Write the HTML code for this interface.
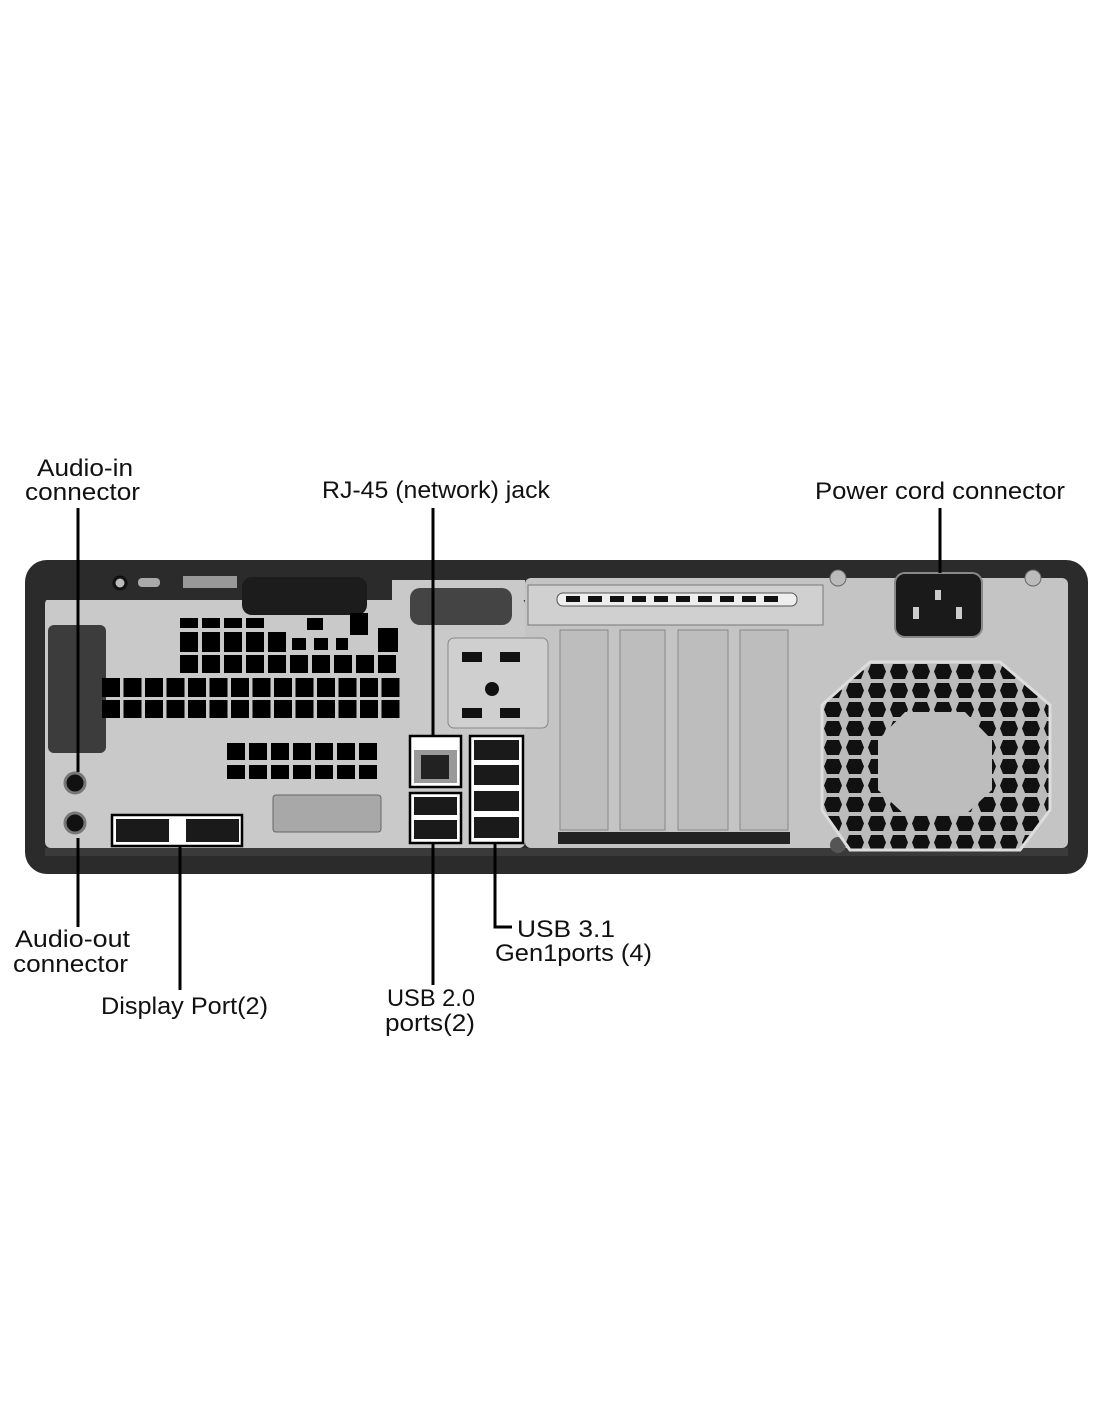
<!DOCTYPE html>
<html><head><meta charset="utf-8"><style>
html,body{margin:0;padding:0;background:#fff}
svg{display:block}
text{font-family:"Liberation Sans Narrow","Liberation Sans",sans-serif;font-size:24px;fill:#111}
</style></head><body>
<svg width="1100" height="1422" viewBox="0 0 1100 1422" xmlns="http://www.w3.org/2000/svg">
<defs>
<pattern id="pa" patternUnits="userSpaceOnUse" x="102" y="0" width="21.5" height="100"><rect x="0" y="0" width="18" height="100" fill="#000"/></pattern>
<pattern id="pb" patternUnits="userSpaceOnUse" x="180" y="0" width="22" height="100"><rect x="0" y="0" width="18" height="100" fill="#000"/></pattern>
<pattern id="pc" patternUnits="userSpaceOnUse" x="227" y="0" width="22" height="100"><rect x="0" y="0" width="18" height="100" fill="#000"/></pattern>
<pattern id="hex" patternUnits="userSpaceOnUse" x="822" y="662" width="22" height="19"><rect width="22" height="19" fill="#bbb"/><polygon points="5,2 17,2 20,9.5 17,17 5,17 2,9.5" fill="#111"/></pattern>
</defs>
<rect width="1100" height="1422" fill="#fff"/>
<rect x="25" y="560" width="1063" height="314" rx="22" fill="#2b2b2b"/>
<rect x="45" y="598" width="480" height="250" rx="6" fill="#c9c9c9"/>
<rect x="525" y="578" width="543" height="270" rx="6" fill="#c4c4c4"/>
<rect x="45" y="580" width="480" height="20" fill="#2b2b2b"/>
<rect x="392" y="580" width="133" height="20" fill="#c9c9c9"/>
<rect x="45" y="848" width="1023" height="8" fill="#3a3a3a"/>
<circle cx="120" cy="583" r="6" fill="#bbb" stroke="#111" stroke-width="3"/>
<rect x="138" y="578" width="22" height="9" rx="4" fill="#aaa"/>
<rect x="183" y="576" width="54" height="12" fill="#999"/>
<rect x="242" y="577" width="125" height="38" rx="10" fill="#1c1c1c"/>
<rect x="410" y="588" width="102" height="37" rx="10" fill="#444"/>
<rect x="48" y="625" width="58" height="128" rx="6" fill="#3c3c3c"/>
<rect x="180" y="618" width="84" height="10" fill="url(#pb)"/>
<rect x="307" y="618" width="16" height="12" fill="#000"/>
<rect x="350" y="613" width="18" height="22" fill="#000"/>
<rect x="180" y="632" width="106" height="20" fill="url(#pb)"/>
<rect x="292" y="638" width="14" height="12" fill="#000"/><rect x="314" y="638" width="14" height="12" fill="#000"/><rect x="336" y="638" width="12" height="12" fill="#000"/>
<rect x="378" y="628" width="20" height="24" fill="#000"/>
<rect x="180" y="655" width="218" height="18" fill="url(#pb)"/>
<rect x="102" y="678" width="298" height="19" fill="url(#pa)"/>
<rect x="102" y="700" width="298" height="18" fill="url(#pa)"/>
<rect x="227" y="743" width="150" height="17" fill="url(#pc)"/>
<rect x="227" y="765" width="150" height="14" fill="url(#pc)"/>
<rect x="273" y="795" width="108" height="37" rx="3" fill="#a8a8a8" stroke="#666"/>
<rect x="410" y="736" width="51" height="51" fill="#fff" stroke="#000" stroke-width="2.5"/>
<rect x="414" y="750" width="43" height="33" fill="#999"/>
<rect x="421" y="755" width="28" height="24" fill="#222"/>
<rect x="410" y="793" width="51" height="50" fill="#fff" stroke="#000" stroke-width="2.5"/>
<rect x="414" y="797" width="43" height="18" fill="#1a1a1a"/><rect x="414" y="820" width="43" height="19" fill="#1a1a1a"/>
<rect x="470" y="736" width="53" height="107" fill="#fff" stroke="#000" stroke-width="2.5"/>
<rect x="474" y="740" width="45" height="20" fill="#1a1a1a"/><rect x="474" y="765" width="45" height="20" fill="#1a1a1a"/><rect x="474" y="791" width="45" height="20" fill="#1a1a1a"/><rect x="474" y="817" width="45" height="21" fill="#1a1a1a"/>
<rect x="112" y="815" width="130" height="31" fill="#fff" stroke="#000" stroke-width="2.5"/>
<rect x="116" y="819" width="53" height="23" fill="#1a1a1a"/><rect x="186" y="819" width="53" height="23" fill="#1a1a1a"/>
<circle cx="75" cy="783" r="10" fill="#111" stroke="#777" stroke-width="3"/>
<circle cx="75" cy="823" r="10" fill="#111" stroke="#777" stroke-width="3"/>
<rect x="448" y="638" width="100" height="90" rx="6" fill="#cfcfcf" stroke="#888"/>
<rect x="462" y="652" width="20" height="10" fill="#111"/><rect x="500" y="652" width="20" height="10" fill="#111"/>
<circle cx="492" cy="689" r="7" fill="#111"/>
<rect x="462" y="708" width="20" height="10" fill="#111"/><rect x="500" y="708" width="20" height="10" fill="#111"/>
<rect x="528" y="585" width="295" height="40" fill="#d0d0d0" stroke="#777"/>
<rect x="557" y="593" width="240" height="13" rx="6" fill="#eee" stroke="#555"/>
<g fill="#111"><rect x="566" y="596" width="14" height="6"/><rect x="588" y="596" width="14" height="6"/><rect x="610" y="596" width="14" height="6"/><rect x="632" y="596" width="14" height="6"/><rect x="654" y="596" width="14" height="6"/><rect x="676" y="596" width="14" height="6"/><rect x="698" y="596" width="14" height="6"/><rect x="720" y="596" width="14" height="6"/><rect x="742" y="596" width="14" height="6"/><rect x="764" y="596" width="14" height="6"/></g>
<g fill="#bdbdbd" stroke="#888"><rect x="560" y="630" width="48" height="200"/><rect x="620" y="630" width="45" height="200"/><rect x="678" y="630" width="50" height="200"/><rect x="740" y="630" width="48" height="200"/></g>
<rect x="558" y="832" width="232" height="12" fill="#222"/>
<rect x="895" y="573" width="87" height="64" rx="10" fill="#1a1a1a" stroke="#888" stroke-width="2"/>
<rect x="935" y="590" width="6" height="10" fill="#ccc"/><rect x="913" y="607" width="6" height="12" fill="#ccc"/><rect x="956" y="607" width="6" height="12" fill="#ccc"/>
<circle cx="838" cy="578" r="8" fill="#bbb" stroke="#666"/><circle cx="1033" cy="578" r="8" fill="#bbb" stroke="#666"/><circle cx="838" cy="845" r="8" fill="#555"/>
<polygon points="870,662 1000,662 1050,705 1050,810 1020,850 850,850 822,810 822,705" fill="url(#hex)" stroke="#ddd" stroke-width="3"/>
<polygon points="905,712 965,712 992,740 992,790 965,815 905,815 878,790 878,740" fill="#bdbdbd"/>
<g stroke="#000" stroke-width="3" fill="none">
<path d="M78 508 V772"/><path d="M78 838 V927"/>
<path d="M180 846 V990"/>
<path d="M433 508 V736"/><path d="M433 843 V985"/>
<path d="M495 843 V927 H512"/>
<path d="M940 508 V573"/>
</g>
<text x="37" y="476" textLength="96" lengthAdjust="spacingAndGlyphs">Audio-in</text>
<text x="25" y="500" textLength="115" lengthAdjust="spacingAndGlyphs">connector</text>
<text x="322" y="498" textLength="228" lengthAdjust="spacingAndGlyphs">RJ-45 (network) jack</text>
<text x="815" y="499" textLength="250" lengthAdjust="spacingAndGlyphs">Power cord connector</text>
<text x="15" y="947" textLength="115" lengthAdjust="spacingAndGlyphs">Audio-out</text>
<text x="13" y="972" textLength="115" lengthAdjust="spacingAndGlyphs">connector</text>
<text x="101" y="1014" textLength="167" lengthAdjust="spacingAndGlyphs">Display Port(2)</text>
<text x="387" y="1006" textLength="88" lengthAdjust="spacingAndGlyphs">USB 2.0</text>
<text x="385" y="1031" textLength="90" lengthAdjust="spacingAndGlyphs">ports(2)</text>
<text x="517" y="937" textLength="98" lengthAdjust="spacingAndGlyphs">USB 3.1</text>
<text x="495" y="961" textLength="157" lengthAdjust="spacingAndGlyphs">Gen1ports (4)</text>
</svg>
</body></html>
